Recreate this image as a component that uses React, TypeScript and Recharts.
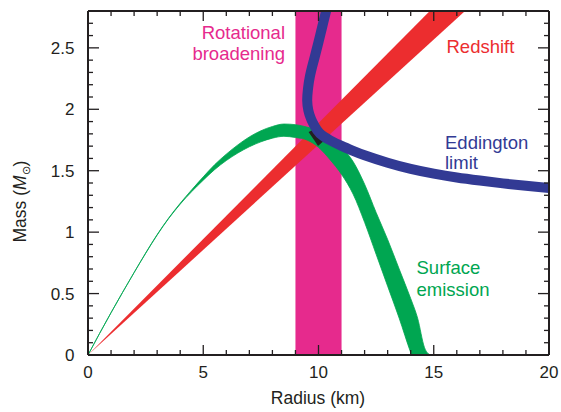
import React from 'react';
import { ComposedChart, Area, Line, XAxis, YAxis } from 'recharts';

const INK = '#231f20';
const PINK = '#e62a8d';
const RED = '#ec2d2f';
const GREEN = '#00a651';
const BLUE = '#323a94';

// tick values
const xTicks = [0, 1, 2, 3, 4, 5, 6, 7, 8, 9, 10, 11, 12, 13, 14, 15, 16, 17, 18, 19, 20];
const yTicks = [0, 0.1, 0.2, 0.3, 0.4, 0.5, 0.6, 0.7, 0.8, 0.9, 1, 1.1, 1.2, 1.3, 1.4, 1.5, 1.6, 1.7, 1.8, 1.9, 2, 2.1, 2.2, 2.3, 2.4, 2.5, 2.6, 2.7];

// rotational broadening band (radius range)
const pinkR = [9, 11];
const pinkLow = [0, 0];
const pinkHigh = [2.8, 2.8];

// redshift band
const redR = [0, 17];
const redLow = [0, 2.91];
const redHigh = [0, 3.21];

// surface emission band
const greenR = [0, 0.5, 1, 1.5, 2, 2.5, 3, 3.5, 4, 4.5, 5, 5.5, 6, 6.5, 7, 7.5, 8, 8.5, 9, 9.5, 10, 10.5, 11, 11.5, 12, 12.5, 13, 13.5, 14, 14.04, 14.3, 14.6, 14.84];
const greenUpper = [0, 0.175, 0.345, 0.51, 0.672, 0.83, 0.98, 1.115, 1.235, 1.345, 1.45, 1.55, 1.635, 1.71, 1.775, 1.825, 1.86, 1.88, 1.875, 1.855, 1.825, 1.77, 1.69, 1.575, 1.39, 1.16, 0.94, 0.7, 0.46, 0.44, 0.3, 0.06, 0];
const greenLower = [0, 0.174, 0.344, 0.509, 0.67, 0.827, 0.976, 1.111, 1.228, 1.33, 1.423, 1.51, 1.583, 1.644, 1.695, 1.735, 1.765, 1.78, 1.77, 1.75, 1.69, 1.59, 1.47, 1.31, 1.08, 0.82, 0.56, 0.3, 0.02, 0, 0, 0, 0];

// Eddington limit centre line
const blueR = [10.42, 10.33, 10.16, 9.99, 9.8, 9.63, 9.54, 9.51, 9.56, 9.68, 9.84, 10.05, 10.5, 11, 11.5, 12, 13, 14, 15, 16, 17, 18, 19, 20];
const blueM = [2.86, 2.8, 2.67, 2.54, 2.4, 2.27, 2.16, 2.07, 1.99, 1.92, 1.86, 1.805, 1.748, 1.702, 1.662, 1.626, 1.565, 1.515, 1.476, 1.445, 1.42, 1.397, 1.377, 1.36];

// overlap of all constraints
const blackR = [9.57, 9.83, 9.98, 10.26];
const blackLow = [1.816, 1.744, 1.702, 1.748];
const blackHigh = [1.816, 1.837, 1.806, 1.748];

const toBand = (rs: number[], lo: number[], hi: number[]) =>
  rs.map((r, i) => ({ r, band: [lo[i], hi[i]] }));

const pinkData = toBand(pinkR, pinkLow, pinkHigh);
const redData = toBand(redR, redLow, redHigh);
const greenData = toBand(greenR, greenLower, greenUpper);
const blackData = toBand(blackR, blackLow, blackHigh);
const blueData = blueR.map((r, i) => ({ r, m: blueM[i] }));

const isMajorX = (v: number) => v % 5 === 0;
const isMajorY = (v: number) => Math.abs(v * 2 - Math.round(v * 2)) < 1e-6;

const BottomTick = ({ x, y, payload }: any) => {
  const v = payload.value;
  const major = isMajorX(v);
  return (
    <g>
      <line x1={x} x2={x} y1={y} y2={y - (major ? 10 : 5)} stroke={INK} strokeWidth={1.3} />
      {major && (
        <text x={x} y={y + 23} textAnchor="middle" fontSize={17} fill={INK}>
          {v}
        </text>
      )}
    </g>
  );
};

const TopTick = ({ x, y, payload }: any) => {
  const major = isMajorX(payload.value);
  return <line x1={x} x2={x} y1={y} y2={y + (major ? 10 : 5)} stroke={INK} strokeWidth={1.3} />;
};

const LeftTick = ({ x, y, payload }: any) => {
  const v = payload.value;
  const major = isMajorY(v);
  return (
    <g>
      <line x1={x} x2={x + (major ? 11 : 5)} y1={y} y2={y} stroke={INK} strokeWidth={1.3} />
      {major && (
        <text x={x - 13.5} y={y + 6} textAnchor="end" fontSize={17} fill={INK}>
          {String(v)}
        </text>
      )}
    </g>
  );
};

const RightTick = ({ x, y, payload }: any) => {
  const major = isMajorY(payload.value);
  return <line x1={x} x2={x - (major ? 11 : 5)} y1={y} y2={y} stroke={INK} strokeWidth={1.3} />;
};

const axisLine = { stroke: INK, strokeWidth: 2 };

export default function App() {
  return (
    <div style={{ position: 'absolute', left: 0, top: 0, fontFamily: '"Liberation Sans", Arial, sans-serif' }}>
      <ComposedChart width={561} height={412} margin={{ top: 10, right: 11, bottom: 27, left: 28 }}>
        <XAxis
          dataKey="r"
          type="number"
          domain={[0, 20]}
          allowDataOverflow
          ticks={xTicks}
          interval={0}
          height={30}
          tickSize={0}
          tickMargin={0}
          tickLine={false}
          axisLine={axisLine}
          tick={<BottomTick />}
        />
        <XAxis
          xAxisId="top"
          orientation="top"
          dataKey="r"
          type="number"
          domain={[0, 20]}
          allowDataOverflow
          ticks={xTicks}
          interval={0}
          height={1}
          tickSize={0}
          tickMargin={0}
          tickLine={false}
          axisLine={axisLine}
          tick={<TopTick />}
        />
        <YAxis
          type="number"
          domain={[0, 2.8]}
          allowDataOverflow
          ticks={yTicks}
          interval={0}
          width={60}
          tickSize={0}
          tickMargin={0}
          tickLine={false}
          axisLine={axisLine}
          tick={<LeftTick />}
        />
        <YAxis
          yAxisId="right"
          orientation="right"
          type="number"
          domain={[0, 2.8]}
          allowDataOverflow
          ticks={yTicks}
          interval={0}
          width={1}
          tickSize={0}
          tickMargin={0}
          tickLine={false}
          axisLine={axisLine}
          tick={<RightTick />}
        />
        <Area data={pinkData} dataKey="band" type="linear" fill={PINK} fillOpacity={1} stroke="none" isAnimationActive={false} />
        <Area data={redData} dataKey="band" type="linear" fill={RED} fillOpacity={1} stroke="none" isAnimationActive={false} />
        <Area
          data={greenData}
          dataKey="band"
          type="monotone"
          fill={GREEN}
          fillOpacity={1}
          stroke={GREEN}
          strokeWidth={0.8}
          isAnimationActive={false}
        />
        <Line
          data={blueData}
          dataKey="m"
          type="natural"
          stroke={BLUE}
          strokeWidth={10}
          dot={false}
          activeDot={false}
          isAnimationActive={false}
        />
        <Area data={blackData} dataKey="band" type="linear" fill={INK} fillOpacity={1} stroke="none" isAnimationActive={false} />

        <text x={285} y={38.5} textAnchor="end" fontSize={18.5} fill={PINK}>Rotational</text>
        <text x={285} y={60} textAnchor="end" fontSize={18.5} fill={PINK}>broadening</text>
        <text x={446.5} y={52.5} fontSize={18.5} fill={RED}>Redshift</text>
        <text x={445} y={148.5} fontSize={18.5} fill={BLUE}>Eddington</text>
        <text x={445} y={169} fontSize={18.5} fill={BLUE}>limit</text>
        <text x={416.5} y={274} fontSize={18.5} fill={GREEN}>Surface</text>
        <text x={416.5} y={296} fontSize={18.5} fill={GREEN}>emission</text>

        <text x={318} y={404} textAnchor="middle" fontSize={17.5} fill={INK}>Radius (km)</text>
        <text transform="rotate(-90)" x={-201.5} y={25.5} textAnchor="middle" fontSize={17.5} fill={INK}>
          Mass (<tspan fontStyle="italic">M</tspan>
          <tspan fontSize={11} dy={4}>⊙</tspan>
          <tspan dy={-4}>)</tspan>
        </text>
      </ComposedChart>
    </div>
  );
}
